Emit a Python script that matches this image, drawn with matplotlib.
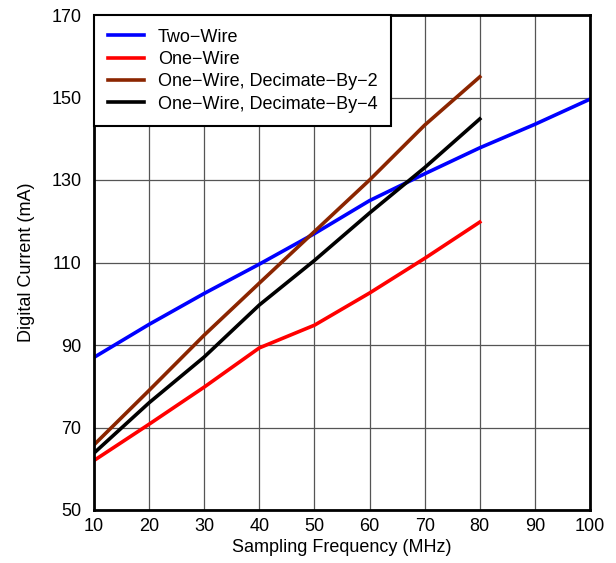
import matplotlib
matplotlib.use('Agg')
import matplotlib.pyplot as plt

plt.rcParams['font.family'] = ['Liberation Sans', 'DejaVu Sans']

freq = [10, 20, 30, 40, 50, 60, 70, 80, 90, 100]
freq80 = [10, 20, 30, 40, 50, 60, 70, 80]
two_wire = [87, 95, 102.5, 109.6, 117, 125, 131.5, 137.8, 143.5, 149.6]
one_wire = [62, 70.8, 79.8, 89.3, 94.8, 102.6, 111, 119.8]
dec2 = [65.8, 79, 92.4, 105, 117.5, 130, 143.3, 155]
dec4 = [63.8, 76, 87.1, 99.7, 110.5, 122, 133, 144.8]

fig = plt.figure(figsize=(6.16, 5.63), dpi=100)
ax = fig.add_axes([94/616, 53/563, 496/616, 495/563])

ax.plot(freq, two_wire, color='#0000ff', lw=2.6, label='Two\u2212Wire')
ax.plot(freq80, one_wire, color='#ff0000', lw=2.6, label='One\u2212Wire')
ax.plot(freq80, dec2, color='#8b2500', lw=2.6, label='One\u2212Wire, Decimate\u2212By\u22122')
ax.plot(freq80, dec4, color='black', lw=2.6, label='One\u2212Wire, Decimate\u2212By\u22124')

ax.set_xlim(10, 100)
ax.set_ylim(50, 170)
ax.set_xticks(range(10, 101, 10))
ax.set_yticks(range(50, 171, 20))
ax.grid(True, color='#555555', lw=0.9)
ax.tick_params(axis='x', length=0, labelsize=13, pad=6)
ax.tick_params(axis='y', length=0, labelsize=13, pad=9)
for s in ax.spines.values():
    s.set_linewidth(2)
ax.set_xlabel('Sampling Frequency (MHz)', fontsize=13, labelpad=3)
ax.set_ylabel('Digital Current (mA)', fontsize=13, labelpad=12)

leg = ax.legend(loc='upper left', fontsize=13, frameon=True, fancybox=False,
                borderaxespad=0, handlelength=2.0, labelspacing=0.3, borderpad=0.75)
leg.get_frame().set_edgecolor('black')
leg.get_frame().set_linewidth(1.5)
leg.get_frame().set_alpha(1)

fig.savefig('out.png', dpi=100)
